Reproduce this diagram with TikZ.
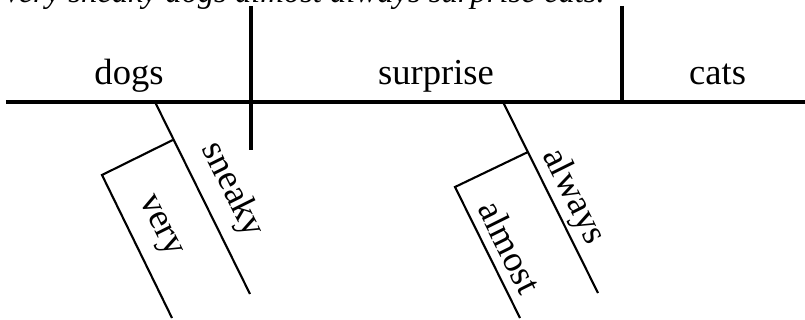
\documentclass[tikz,border=0pt]{standalone}
\usepackage{fontspec}
\setmainfont{Liberation Serif}
\usepackage{tikz}
\usetikzlibrary{positioning, calc}
\tikzset{
  mainline/.style={line width=2.2pt},
  modline/.style={line width=1.5pt},
  word/.style={
    inner sep=0pt, anchor=base,
    font=\fontsize{26}{30}\selectfont
  },
  slantword/.style={
    inner sep=0pt, rotate=-63.55,
    font=\fontsize{26}{30}\selectfont
  },
  caption/.style={
    inner sep=0pt, anchor=base east,
    font=\fontsize{23.2}{28}\selectfont\itshape
  }
}

\begin{document}
\begin{tikzpicture}

\useasboundingbox (0,0) rectangle (20.125,8);

%% ── Sentence ─────────────────────────────────────────────────
\node[caption] (sentence) at (15.125,7.93) {Very sneaky dogs almost always surprise cats.};

%% ── Base line and dividers ──────────────────────────────────
\coordinate (baseL) at (0.15,5.45);
\coordinate (baseR) at (20.125,5.45);
\coordinate (subjTop) at (6.275,7.85);
\coordinate (subjBot) at (6.275,4.25);
\coordinate (objTop) at (15.55,7.85);
\coordinate (objBot) at (15.55,5.45);

\draw[mainline] (baseL) -- (baseR);
\draw[mainline] (subjTop) -- (subjBot);
\draw[mainline] (objTop) -- (objBot);

\node[word] (dogs) at (3.225,5.875) {dogs};
\node[word] (surprise) at (10.9,5.875) {surprise};
\node[word] (cats) at (17.94,5.875) {cats};

%% ── Modifiers of dogs ───────────────────────────────────────
\coordinate (sneakyTop) at (3.875,5.45);
\coordinate (sneakyEnd) at (6.25,0.65);
\coordinate (veryJoin) at (4.32,4.5);
\coordinate (veryCorner) at (2.55,3.625);
\coordinate (veryEnd) at (4.3,0.05);

\draw[modline] (sneakyTop) -- (sneakyEnd);
\draw[modline] (veryJoin) -- (veryCorner) -- (veryEnd);

\node[slantword] (sneaky) at (5.8,3.25) {sneaky};
\node[slantword] (very) at (3.95,2.325) {very};

%% ── Modifiers of surprise ───────────────────────────────────
\coordinate (alwaysTop) at (12.575,5.45);
\coordinate (alwaysEnd) at (14.95,0.675);
\coordinate (almostJoin) at (13.2,4.2);
\coordinate (almostCorner) at (11.375,3.325);
\coordinate (almostEnd) at (13.0,0.05);

\draw[modline] (alwaysTop) -- (alwaysEnd);
\draw[modline] (almostJoin) -- (almostCorner) -- (almostEnd);

\node[slantword] (always) at (14.325,3.075) {always};
\node[slantword] (almost) at (12.75,1.825) {almost};

\end{tikzpicture}
\end{document}
